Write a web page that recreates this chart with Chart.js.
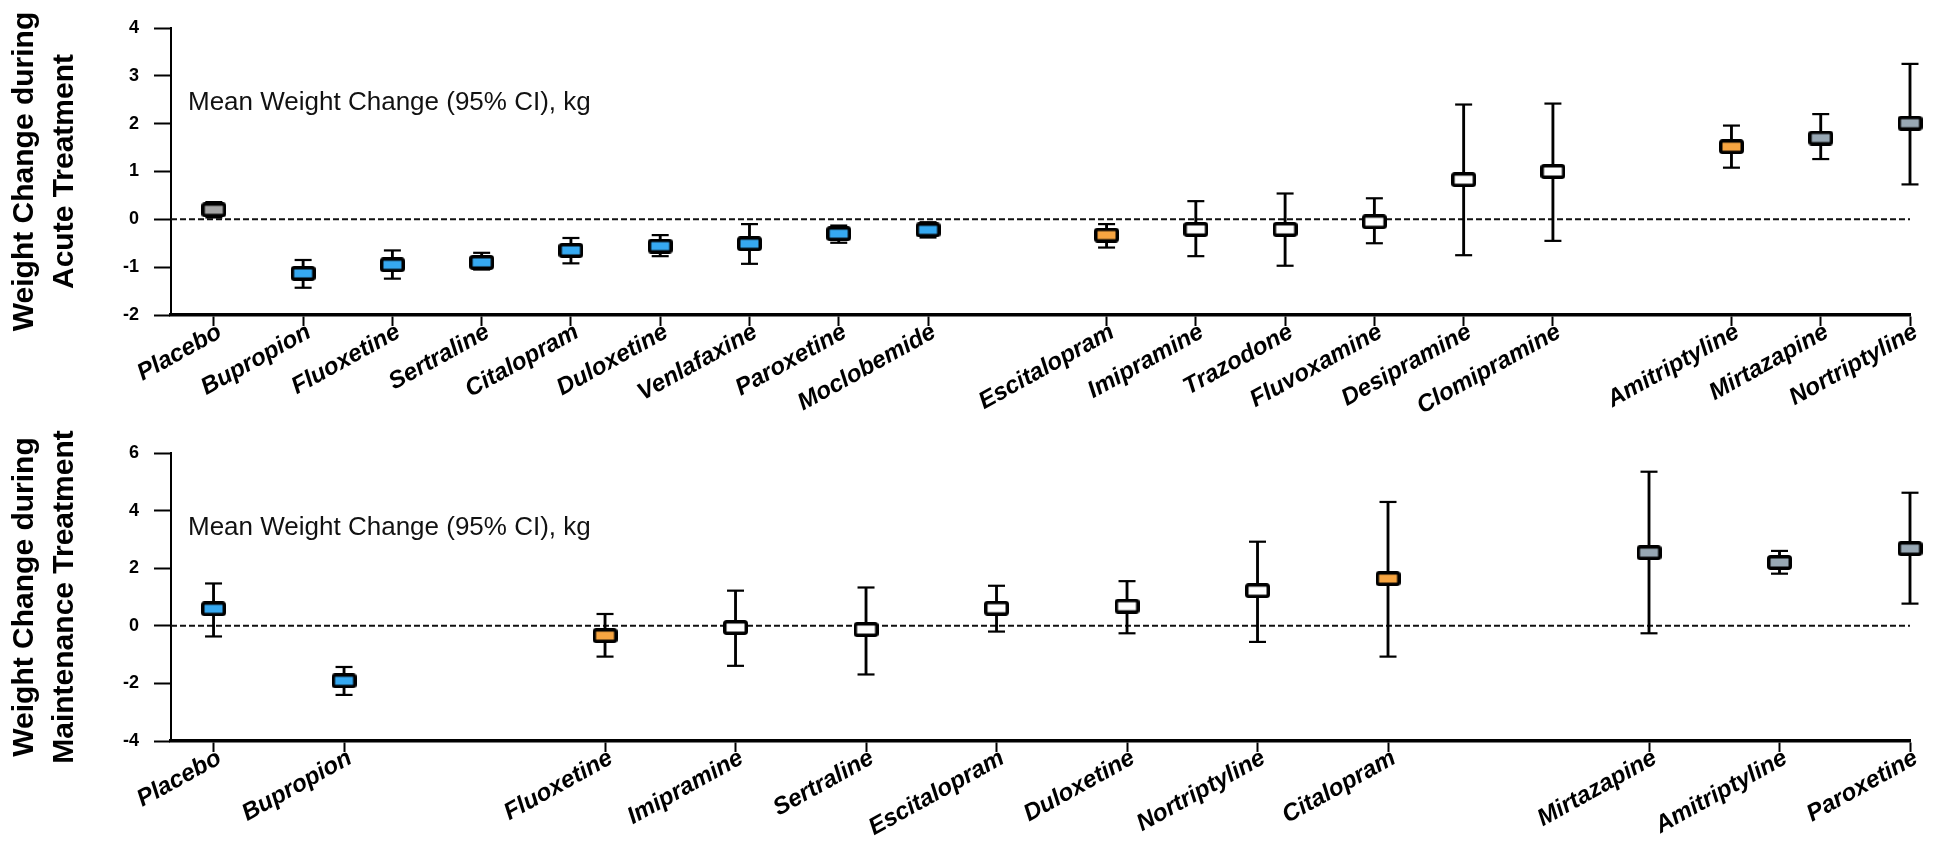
<!DOCTYPE html>
<html>
<head>
<meta charset="utf-8">
<script src="https://cdn.jsdelivr.net/npm/chart.js@4.4.1/dist/chart.umd.min.js"></script>
<style>
  html, body { margin: 0; padding: 0; background: #fff; }
  #wrap { position: relative; width: 1935px; height: 841px; overflow: hidden; }
  canvas { display: block; }
</style>
</head>
<body>
<div id="wrap">
  <canvas id="acute" width="1935" height="420" style="width:1935px;height:420px"></canvas>
  <canvas id="maint" width="1935" height="421" style="width:1935px;height:421px"></canvas>
</div>
<script>
// ---- Acute treatment: mean weight change and 95% CI (kg) ----
const acuteDrugs = ['Placebo', 'Bupropion', 'Fluoxetine', 'Sertraline', 'Citalopram', 'Duloxetine',
  'Venlafaxine', 'Paroxetine', 'Moclobemide', 'Escitalopram', 'Imipramine', 'Trazodone',
  'Fluvoxamine', 'Desipramine', 'Clomipramine', 'Amitriptyline', 'Mirtazapine', 'Nortriptyline'];
const acuteCluster = [0, 0, 0, 0, 0, 0, 0, 0, 0, 1, 1, 1, 1, 1, 1, 2, 2, 2];
const acuteClass = [0, 1, 1, 1, 1, 1, 1, 1, 1, 2, 3, 3, 3, 3, 3, 2, 4, 4];
const acuteMean = [0.20, -1.13, -0.95, -0.90, -0.65, -0.56, -0.51, -0.30, -0.22, -0.33, -0.21, -0.21,
  -0.05, 0.83, 1.00, 1.52, 1.70, 2.01];
const acuteLow = [0.04, -1.43, -1.24, -1.05, -0.92, -0.77, -0.93, -0.49, -0.38, -0.59, -0.77, -0.97,
  -0.50, -0.75, -0.45, 1.08, 1.26, 0.73];
const acuteHigh = [0.36, -0.85, -0.65, -0.70, -0.39, -0.33, -0.10, -0.13, -0.06, -0.10, 0.38, 0.54,
  0.44, 2.40, 2.42, 1.96, 2.20, 3.25];
const acuteYTicks = [-2, -1, 0, 1, 2, 3, 4];

// ---- Maintenance treatment: mean weight change and 95% CI (kg) ----
const maintDrugs = ['Placebo', 'Bupropion', 'Fluoxetine', 'Imipramine', 'Sertraline', 'Escitalopram',
  'Duloxetine', 'Nortriptyline', 'Citalopram', 'Mirtazapine', 'Amitriptyline', 'Paroxetine'];
const maintCluster = [0, 0, 1, 1, 1, 1, 1, 1, 1, 2, 2, 2];
const maintClass = [1, 1, 2, 3, 3, 3, 3, 3, 2, 4, 4, 4];
const maintMean = [0.59, -1.91, -0.34, -0.06, -0.13, 0.61, 0.68, 1.22, 1.64, 2.54, 2.20, 2.68];
const maintLow = [-0.37, -2.40, -1.07, -1.39, -1.69, -0.20, -0.26, -0.56, -1.07, -0.26, 1.81, 0.77];
const maintHigh = [1.47, -1.43, 0.41, 1.22, 1.33, 1.39, 1.55, 2.92, 4.30, 5.35, 2.60, 4.62];
const maintYTicks = [-4, -2, 0, 2, 4, 6];

const noteText = 'Mean Weight Change (95% CI), kg';

// ---- styling ----
const classFill = ['#a6a6a6', '#36a9f1', '#f7a541', '#ffffff', '#98a8b4'];
const FONT = '"Liberation Sans", Arial, sans-serif';

// Box marker drawn at each mean: a filled rectangle with a heavy black outline.
function boxMarker(fill) {
  const c = document.createElement('canvas');
  c.width = 25; c.height = 15;
  const g = c.getContext('2d');
  g.beginPath();
  g.roundRect(1.75, 1.75, 21.5, 11.5, 2);
  g.fillStyle = fill;
  g.fill();
  g.lineWidth = 3.5;
  g.strokeStyle = '#000';
  g.stroke();
  return c;
}
const markers = classFill.map(boxMarker);

// Free-floating caption in the upper-left of each plot area.
const notePlugin = {
  id: 'note',
  afterDraw(chart, args, opts) {
    const { ctx, chartArea } = chart;
    ctx.save();
    ctx.font = '26px ' + FONT;
    ctx.fillStyle = '#111';
    ctx.textBaseline = 'alphabetic';
    ctx.fillText(opts.text, chartArea.left + 17, chartArea.top + 82);
    ctx.restore();
  }
};

function buildPanel(id, p) {
  const xs = p.drugs.map((d, i) => i + p.cluster[i]);
  const lastX = xs[xs.length - 1];
  const nameAt = new Map(xs.map((x, i) => [x, p.drugs[i]]));
  const xMin = -p.leftGap;

  return new Chart(document.getElementById(id), {
    type: 'scatter',
    plugins: [notePlugin],
    data: {
      datasets: [
        {
          type: 'scatter',
          label: 'Mean',
          data: xs.map((x, i) => ({ x, y: p.mean[i] })),
          pointStyle: p.cls.map(k => markers[k]),
          pointRadius: 12,
          clip: false,
          order: 0
        },
        {
          type: 'scatter',
          label: 'CI caps',
          data: xs.map((x, i) => ({ x, y: p.low[i] })).concat(xs.map((x, i) => ({ x, y: p.high[i] }))),
          pointStyle: 'line',
          pointRadius: 8.5,
          borderWidth: 2.2,
          borderColor: '#000',
          clip: false,
          order: 1
        },
        {
          type: 'bar',
          label: '95% CI',
          data: xs.map((x, i) => ({ x, y: [p.low[i], p.high[i]] })),
          backgroundColor: '#000',
          borderWidth: 0,
          barThickness: 2.2,
          clip: false,
          order: 2
        },
        {
          type: 'line',
          label: 'No change',
          data: [{ x: xMin, y: 0 }, { x: lastX, y: 0 }],
          borderColor: '#111',
          borderWidth: 2,
          borderDash: [6, 3],
          pointRadius: 0,
          order: 3
        }
      ]
    },
    options: {
      responsive: false,
      animation: false,
      events: [],
      layout: { padding: { top: p.padTop, right: 25, left: 0, bottom: 0 } },
      plugins: {
        legend: { display: false },
        tooltip: { enabled: false },
        note: { text: noteText }
      },
      scales: {
        x: {
          type: 'linear',
          offset: false,
          min: xMin,
          max: lastX,
          afterBuildTicks: s => { s.ticks = xs.map(v => ({ value: v })); },
          afterFit: s => { s.height = p.xAxisHeight; },
          ticks: {
            autoSkip: false,
            minRotation: 29,
            maxRotation: 29,
            padding: -8,
            labelOffset: 6,
            color: '#000',
            font: { family: FONT, size: 24, weight: 'bold', style: 'italic' },
            callback: v => nameAt.get(v) ?? ''
          },
          grid: { offset: false, drawOnChartArea: false, drawTicks: true, tickLength: 11, tickWidth: 2, tickColor: '#000' },
          border: { display: true, color: '#000', width: 3.5 }
        },
        y: {
          type: 'linear',
          min: p.yTicks[0],
          max: p.yTicks[p.yTicks.length - 1],
          afterBuildTicks: s => { s.ticks = p.yTicks.map(v => ({ value: v })); },
          afterFit: s => { s.width = 171; },
          ticks: {
            padding: 15,
            color: '#000',
            font: { family: FONT, size: 18, weight: 'bold' },
            callback: v => String(v)
          },
          grid: { drawOnChartArea: false, drawTicks: true, tickLength: 17, tickWidth: 2, tickColor: '#000' },
          border: { display: true, color: '#000', width: 2 },
          title: {
            display: true,
            text: p.title,
            color: '#000',
            font: { family: FONT, size: 30, weight: 'bold', lineHeight: 1.333 },
            padding: { top: 5, bottom: 0 }
          }
        }
      }
    }
  });
}

buildPanel('acute', {
  drugs: acuteDrugs, cluster: acuteCluster, cls: acuteClass,
  mean: acuteMean, low: acuteLow, high: acuteHigh, yTicks: acuteYTicks,
  title: ['Weight Change during', 'Acute Treatment'],
  leftGap: 0.48, padTop: 28, xAxisHeight: 105
});

buildPanel('maint', {
  drugs: maintDrugs, cluster: maintCluster, cls: maintClass,
  mean: maintMean, low: maintLow, high: maintHigh, yTicks: maintYTicks,
  title: ['Weight Change during', 'Maintenance Treatment'],
  leftGap: 0.326, padTop: 33, xAxisHeight: 100
});
</script>
</body>
</html>
